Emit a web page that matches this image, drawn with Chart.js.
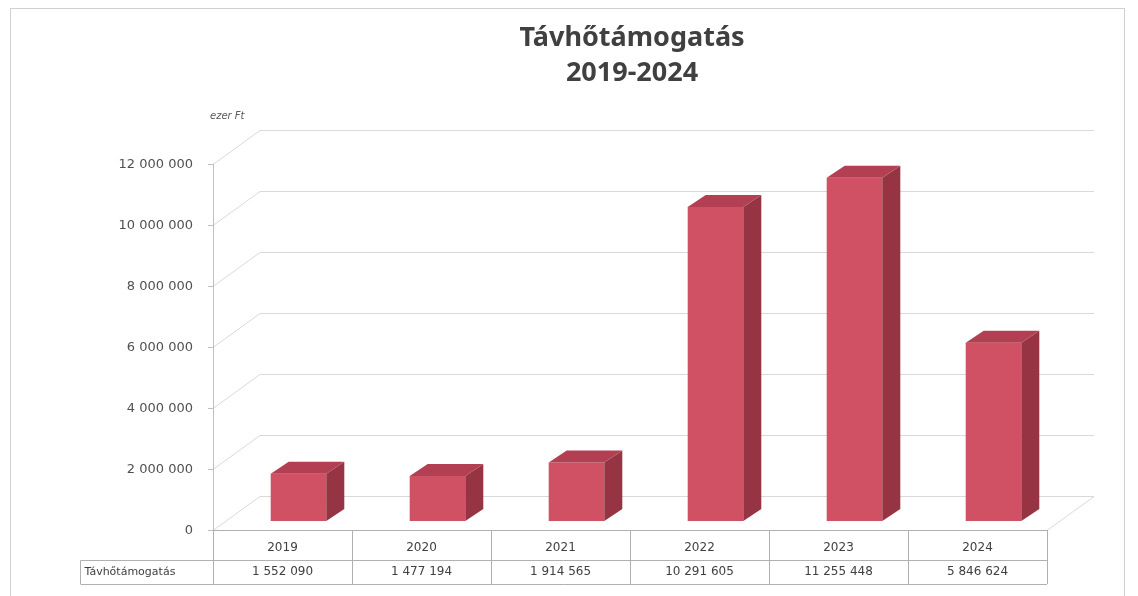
<!DOCTYPE html>
<html lang="hu">
<head>
<meta charset="utf-8">
<title>Távhőtámogatás 2019-2024</title>
<script src="https://cdn.jsdelivr.net/npm/chart.js@4/dist/chart.umd.min.js"></script>
<style>
  html, body { margin: 0; padding: 0; background: #fff; }
  #wrap { width: 1138px; height: 596px; position: relative; }
</style>
</head>
<body>
<div id="wrap"><canvas id="chart" width="1138" height="596"></canvas></div>
<script>
// adatok (ezer Ft)
const years = ['2019', '2020', '2021', '2022', '2023', '2024'];
const support = [1552090, 1477194, 1914565, 10291605, 11255448, 5846624];
const seriesName = 'Távhőtámogatás';
const titleLines = ['Távhőtámogatás', '2019-2024'];
const unitLabel = 'ezer Ft';
const yMax = 12000000;
const yStep = 2000000;

// 3D-s hatás paraméterei
const AXIS_DX = -16, AXIS_DY = 9;   // elülső tengely a bárok síkjához képest
const WALL_DX = 47, WALL_DY = -34;  // padló mélysége
const BAR_DX = 18, BAR_DY = -12;    // oszlop mélysége

const fmt = n => String(n).replace(/\B(?=(\d{3})+(?!\d))/g, ' ');

const FRONT = 'rgb(208, 80, 100)';
const SIDE = 'rgb(150, 52, 68)';
const TOP = 'rgb(178, 64, 82)';

const wallPlugin = {
    id: 'wall3d',
    beforeDatasetsDraw(chart) {
        const { ctx, chartArea, scales } = chart;
        const y = scales.y;
        const x0 = chartArea.left + AXIS_DX;
        const x1 = chartArea.right + AXIS_DX;
        const yb = chartArea.bottom + AXIS_DY;
        ctx.save();
        ctx.lineWidth = 1;
        ctx.strokeStyle = '#d9d9d9';
        // rácsvonalak a hátsó falon + oldalfal átlói
        for (let v = 0; v <= yMax; v += yStep) {
            const yf = Math.round(y.getPixelForValue(v) + AXIS_DY) + 0.5;
            ctx.beginPath();
            ctx.moveTo(x0, yf);
            ctx.lineTo(x0 + WALL_DX, yf + WALL_DY);
            ctx.lineTo(x1 + WALL_DX, yf + WALL_DY);
            ctx.stroke();
        }
        // padló
        ctx.beginPath();
        ctx.moveTo(x1, yb + 0.5);
        ctx.lineTo(x1 + WALL_DX, yb + WALL_DY + 0.5);
        ctx.stroke();
        // függőleges tengely
        const yTop = Math.round(y.getPixelForValue(yMax) + AXIS_DY);
        ctx.strokeStyle = '#bfbfbf';
        ctx.beginPath();
        ctx.moveTo(x0 + 0.5, yTop);
        ctx.lineTo(x0 + 0.5, yb + 0.5);
        for (let v = 0; v <= yMax; v += yStep) {
            const yf = Math.round(y.getPixelForValue(v) + AXIS_DY) + 0.5;
            ctx.moveTo(x0 - 5, yf);
            ctx.lineTo(x0, yf);
        }
        ctx.stroke();

        // adattábla
        const rowH1 = 30, rowH2 = 23;
        const yMid = Math.round(yb + rowH1) + 0.5;
        const yEnd = Math.round(yMid + rowH2);
        const labelLeft = 80.5;
        ctx.strokeStyle = '#b0b0b0';
        ctx.beginPath();
        ctx.moveTo(x0, Math.round(yb) + 0.5);
        ctx.lineTo(x1, Math.round(yb) + 0.5);
        ctx.moveTo(labelLeft, yMid);
        ctx.lineTo(x1, yMid);
        ctx.moveTo(labelLeft, yEnd + 0.5);
        ctx.lineTo(x1, yEnd + 0.5);
        ctx.moveTo(labelLeft, yMid);
        ctx.lineTo(labelLeft, yEnd);
        const cw = (x1 - x0) / years.length;
        for (let i = 0; i <= years.length; i++) {
            const xx = Math.round(x0 + i * cw) + 0.5;
            ctx.moveTo(xx, Math.round(yb));
            ctx.lineTo(xx, yEnd);
        }
        ctx.stroke();

        ctx.fillStyle = '#404040';
        ctx.font = '12px "DejaVu Sans", sans-serif';
        ctx.textAlign = 'center';
        ctx.textBaseline = 'middle';
        years.forEach((yr, i) => {
            const cx = x0 + (i + 0.5) * cw;
            ctx.fillText(yr, cx, yb + rowH1 / 2 + 3);
            ctx.fillText(fmt(support[i]), cx, yMid + rowH2 / 2);
        });
        ctx.textAlign = 'left';
        ctx.font = '11px "DejaVu Sans", sans-serif';
        ctx.fillText(seriesName, labelLeft + 4, yMid + rowH2 / 2);
        ctx.restore();
    },
    afterDatasetsDraw(chart) {
        const { ctx } = chart;
        const meta = chart.getDatasetMeta(0);
        ctx.save();
        meta.data.forEach(bar => {
            const { x, y, base, width } = bar.getProps(['x', 'y', 'base', 'width'], true);
            const l = x - width / 2, r = x + width / 2;
            // oldallap
            ctx.fillStyle = SIDE;
            ctx.beginPath();
            ctx.moveTo(r, y);
            ctx.lineTo(r + BAR_DX, y + BAR_DY);
            ctx.lineTo(r + BAR_DX, base + BAR_DY);
            ctx.lineTo(r, base);
            ctx.closePath();
            ctx.fill();
            // tető
            ctx.fillStyle = TOP;
            ctx.beginPath();
            ctx.moveTo(l, y);
            ctx.lineTo(l + BAR_DX, y + BAR_DY);
            ctx.lineTo(r + BAR_DX, y + BAR_DY);
            ctx.lineTo(r, y);
            ctx.closePath();
            ctx.fill();
        });
        ctx.restore();
    },
    afterDraw(chart) {
        const { ctx, chartArea } = chart;
        ctx.save();
        // keret
        ctx.strokeStyle = '#d0d0d0';
        ctx.lineWidth = 1;
        ctx.strokeRect(10.5, 8.5, 1114, 600);
        // cím
        ctx.fillStyle = '#404040';
        ctx.font = 'bold 27px "Noto Sans", sans-serif';
        ctx.textAlign = 'center';
        ctx.textBaseline = 'middle';
        ctx.fillText(titleLines[0], 632, 38);
        ctx.fillText(titleLines[1], 632, 73);
        // mértékegység
        ctx.font = 'italic 10px "DejaVu Sans", sans-serif';
        ctx.fillStyle = '#595959';
        ctx.textAlign = 'left';
        ctx.fillText(unitLabel, chartArea.left + AXIS_DX - 3, 116);
        ctx.restore();
    }
};

new Chart(document.getElementById('chart'), {
    type: 'bar',
    data: {
        labels: years,
        datasets: [{
            label: seriesName,
            data: support,
            backgroundColor: FRONT,
            borderWidth: 0,
            barPercentage: 0.4,
            categoryPercentage: 1
        }]
    },
    options: {
        responsive: false,
        animation: false,
        layout: { padding: { top: 155, right: 75, bottom: 75, left: 0 } },
        plugins: {
            legend: { display: false },
            title: { display: false },
            tooltip: { enabled: false }
        },
        scales: {
            x: { display: false },
            y: {
                min: 0, max: yMax,
                afterFit(scale) { scale.width = 229; },
                border: { display: false },
                grid: { display: false },
                ticks: {
                    stepSize: yStep,
                    padding: 28,
                    labelOffset: 10,
                    color: '#505050',
                    font: { family: '"DejaVu Sans", sans-serif', size: 13 },
                    callback: v => fmt(v)
                }
            }
        }
    },
    plugins: [wallPlugin]
});
</script>
</body>
</html>
